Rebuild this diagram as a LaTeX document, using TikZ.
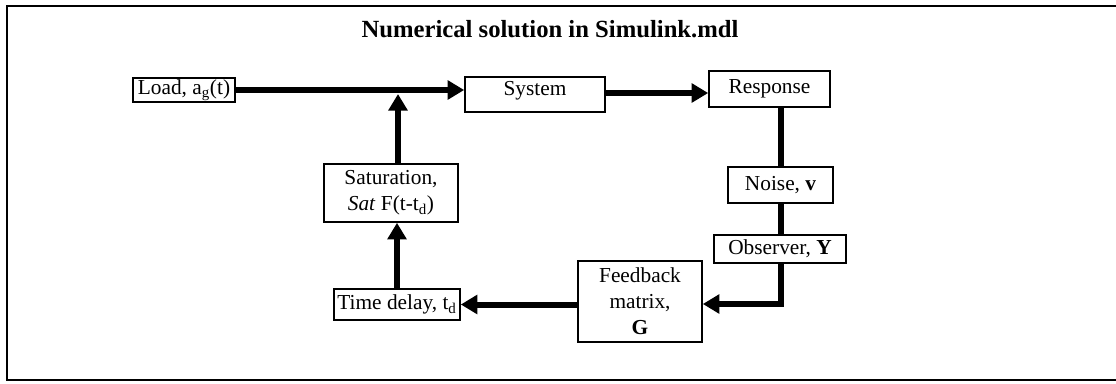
\documentclass[tikz,border=0pt]{standalone}
\usepackage{fontspec}
\setmainfont{Liberation Serif}
\usetikzlibrary{arrows.meta,calc}
\begin{document}
\begin{tikzpicture}[x=0.75pt,y=-0.75pt,
  blk/.style={draw,line width=1.2pt,inner sep=0pt,align=center,
    font=\fontsize{16}{19.5}\selectfont},
  arr/.style={line width=4.5pt,-{Triangle[length=12.5pt,width=14pt]}},
  lnk/.style={line width=4.5pt}]
\useasboundingbox (0,0) rectangle (1116,383);
\draw[line width=1.5pt] (1130,6) -- (7,6) -- (7,380) -- (1130,380);
\node[font=\fontsize{18.5}{20}\selectfont\bfseries] (title) at (550,29) {Numerical solution in Simulink.mdl};
\node[blk,minimum width=102*0.75pt,minimum height=24*0.75pt] (load) at (184,90) {Load, a\textsubscript{g}(t)};
\node[blk,minimum width=140*0.75pt,minimum height=35*0.75pt,text depth=9pt] (sys) at (535,94.5) {System};
\node[blk,minimum width=121*0.75pt,minimum height=36*0.75pt,text depth=3.5pt] (resp) at (769.5,89) {Response};
\node[blk,minimum width=105*0.75pt,minimum height=36*0.75pt] (noise) at (780.5,185) {Noise, \textbf{v}};
\node[blk,minimum width=132*0.75pt,minimum height=28*0.75pt] (obs) at (780,249) {Observer, \textbf{Y}};
\node[blk,minimum width=124*0.75pt,minimum height=81*0.75pt] (fb) at (640,301.5) {Feedback\\matrix,\\\textbf{G}};
\node[blk,minimum width=126*0.75pt,minimum height=31*0.75pt] (td) at (397,304.5) {Time delay, t\textsubscript{d}};
\node[blk,minimum width=134*0.75pt,minimum height=58*0.75pt] (sat) at (391,193) {Saturation,\\\textit{Sat} F(t-t\textsubscript{d})};
\coordinate (j) at (398,90);
\coordinate (vx) at (781,0);
\coordinate (c) at (781,304);
\draw[arr] (load.east |- j) -- (j -| sys.west);
\draw[arr] (j |- sat.north) -- ($(j)+(0,4)$);
\draw[arr] (sys.east |- 0,93) -- (resp.west |- 0,93);
\draw[lnk] (resp.south -| vx) -- (noise.north -| vx);
\draw[lnk] (noise.south -| vx) -- (obs.north -| vx);
\draw[arr,line join=miter] (obs.south -| vx) -- (c) -- (c -| fb.east);
\draw[arr] (fb.west |- td.east) -- (td.east);
\draw[arr] (td.north) -- (td.north |- sat.south);
\end{tikzpicture}
\end{document}
